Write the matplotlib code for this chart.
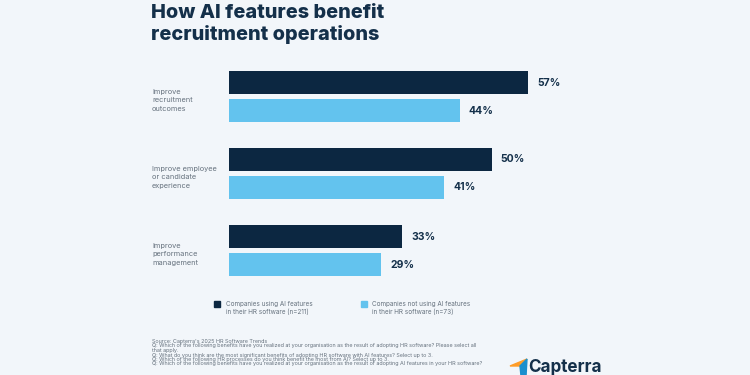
import matplotlib.pyplot as plt
import numpy as np
from matplotlib.patches import Polygon
from matplotlib.transforms import blended_transform_factory

# data
categories = [
    "Improve\nrecruitment\noutcomes",
    "Improve employee\nor candidate\nexperience",
    "Improve\nperformance\nmanagement",
]
using_ai = [57, 50, 33]
not_using_ai = [44, 41, 29]
legend_labels = [
    "Companies using AI features\nin their HR software (n=211)",
    "Companies not using AI features\nin their HR software (n=73)",
]
source_lines = [
    "Source: Capterra's 2025 HR Software Trends",
    "Q: Which of the following benefits have you realized at your organisation as the result of adopting HR software? Please select all",
    "that apply.",
    "Q: What do you think are the most significant benefits of adopting HR software with AI features? Select up to 3.",
    "Q: Which of the following HR processes do you think benefit the most from AI? Select up to 3.",
    "Q: Which of the following benefits have you realized at your organisation as the result of adopting AI features in your HR software?",
]

BG = "#F2F6FA"
DARK = "#0C2741"
LIGHT = "#63C3EE"
TITLE = "#14304A"
GREY = "#66727E"

plt.rcParams["font.family"] = ["Inter", "DejaVu Sans"]

W, H = 750, 375
fig = plt.figure(figsize=(7.5, 3.75), dpi=100, facecolor=BG)


def fx(px):
    return px / W


def fy(py):
    return 1 - py / H


# title
fig.text(fx(151), fy(17.5), "How AI features benefit", fontsize=14.3, fontweight="heavy",
         color=TITLE, va="baseline", ha="left")
fig.text(fx(151), fy(40.5), "recruitment operations", fontsize=14.3, fontweight="heavy",
         color=TITLE, va="baseline", ha="left")

# bars
top_px, bot_px = 60, 287
left_px, right_px = 229, 748
ax = fig.add_axes([fx(left_px), fy(bot_px), (right_px - left_px) / W, (bot_px - top_px) / H])
ax.set_facecolor(BG)
y = np.arange(len(categories))
off = 14 / 77
bh = 23 / 77
ax.barh(y - off, using_ai, height=bh, color=DARK)
ax.barh(y + off, not_using_ai, height=bh, color=LIGHT)
ax.set_xlim(0, (right_px - left_px) / 5.25)
ax.set_ylim(2 + (bot_px - 250.5) / 77, -(96.5 - top_px) / 77)
ax.axis("off")

for yi, v in zip(y - off, using_ai):
    ax.text(v + 1.7, yi, f"{v}%", fontsize=7.5, fontweight="bold", color=TITLE,
            va="center", ha="left")
for yi, v in zip(y + off, not_using_ai):
    ax.text(v + 1.7, yi, f"{v}%", fontsize=7.5, fontweight="bold", color=TITLE,
            va="center", ha="left")

# category labels
lab_tr = blended_transform_factory(fig.transFigure, ax.transData)
for yi, lab in zip(y, categories):
    ax.text(fx(152), yi + 0.05, lab, transform=lab_tr, fontsize=5.3, color=GREY,
            va="center", ha="left", linespacing=1.45)

# legend
for (sx, tx), lab, col in zip([(214, 226), (361, 372)], legend_labels, [DARK, LIGHT]):
    fig.patches.append(plt.Rectangle((fx(sx), fy(307)), 6 / W, 6 / H, color=col,
                                     transform=fig.transFigure, figure=fig))
    fig.text(fx(tx), fy(308), lab, fontsize=4.6, color=GREY, va="center", ha="left",
             linespacing=1.4)

# source notes
for i, line in enumerate(source_lines):
    fig.text(fx(152), fy(341.5 + 4.5 * i), line, fontsize=3.9, color=GREY,
             va="center", ha="left")

# Capterra logo
fig.patches.append(Polygon([(fx(510), fy(366)), (fx(527), fy(359)), (fx(520), fy(366))],
                           closed=True, color="#FF9D28", transform=fig.transFigure,
                           figure=fig))
fig.patches.append(Polygon([(fx(520), fy(366)), (fx(527), fy(359)), (fx(526), fy(376)),
                            (fx(521), fy(376))], closed=True, color="#1A8FCE",
                           transform=fig.transFigure, figure=fig))
fig.text(fx(528), fy(372.5), "Capterra", fontsize=12.3, fontweight="bold", color=TITLE,
         va="baseline", ha="left")

fig.savefig("out.png", dpi=100, facecolor=BG)
